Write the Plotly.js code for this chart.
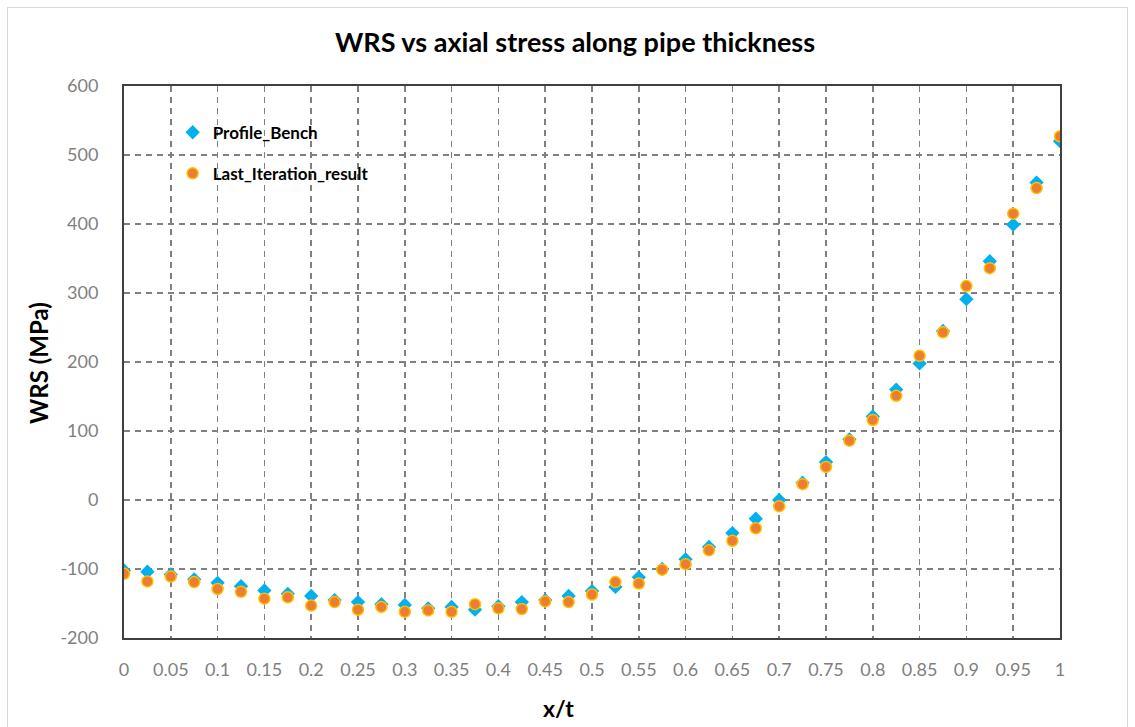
<!DOCTYPE html>
<html>
<head>
<meta charset="utf-8">
<script src="https://cdn.plot.ly/plotly-3.0.1.min.js"></script>
<style>
  html, body { margin: 0; padding: 0; background: #ffffff; }
  #frame { position: absolute; left: 7px; top: 7px; width: 1121px; height: 740px; border: 1px solid #d9d9d9; box-sizing: border-box; }
  #chart { position: absolute; left: 0; top: 0; width: 1135px; height: 727px; }
</style>
</head>
<body>
<div id="frame"></div>
<div id="chart"></div>
<script>
const xPos = [0, 0.025, 0.05, 0.075, 0.1, 0.125, 0.15, 0.175, 0.2, 0.225, 0.25, 0.275, 0.3, 0.325, 0.35, 0.375, 0.4, 0.425, 0.45, 0.475, 0.5, 0.525, 0.55, 0.575, 0.6, 0.625, 0.65, 0.675, 0.7, 0.725, 0.75, 0.775, 0.8, 0.825, 0.85, 0.875, 0.9, 0.925, 0.95, 0.975, 1.0];
const profileBench = [-102, -104, -108, -115, -120, -125, -131, -136, -139, -145, -148, -151, -152, -157, -155, -159, -154, -148, -145, -139, -132, -126, -112, -100, -86, -68, -48, -27, 0, 25, 55, 88, 121, 160, 198, 245, 291, 346, 399, 460, 520];
const lastIteration = [-107, -118, -111, -119, -129, -133, -143, -141, -153, -148, -159, -155, -162, -160, -162, -151, -157, -158, -147, -148, -137, -119, -121, -101, -93, -73, -59, -41, -9, 23, 48, 86, 116, 151, 209, 243, 310, 336, 415, 452, 527];
const seriesNames = ['Profile_Bench', 'Last_Iteration_result'];
const xTickVals = [0, 0.05, 0.1, 0.15, 0.2, 0.25, 0.3, 0.35, 0.4, 0.45, 0.5, 0.55, 0.6, 0.65, 0.7, 0.75, 0.8, 0.85, 0.9, 0.95, 1];
const xTickText = ['0', '0.05', '0.1', '0.15', '0.2', '0.25', '0.3', '0.35', '0.4', '0.45', '0.5', '0.55', '0.6', '0.65', '0.7', '0.75', '0.8', '0.85', '0.9', '0.95', '1'];
const yTickVals = [-200, -100, 0, 100, 200, 300, 400, 500, 600];
const yTickText = ['-200', '-100', '0', '100', '200', '300', '400', '500', '600'];

const FONT = 'Lato, "Open Sans", sans-serif';

const traces = [
  {
    x: xPos, y: profileBench, name: seriesNames[0], type: 'scatter', mode: 'markers',
    legendgroup: 'a',
    marker: { symbol: 'diamond', size: 11, color: '#00B0F0', line: { width: 0 } }
  },
  {
    x: xPos, y: lastIteration, name: seriesNames[1], type: 'scatter', mode: 'markers',
    legendgroup: 'b',
    marker: { symbol: 'circle', size: 11, color: '#ED7D31', line: { width: 1.5, color: '#FFC000' } }
  }
];

const layout = {
  width: 1135, height: 727,
  margin: { l: 124, r: 75, t: 86, b: 89 },
  paper_bgcolor: 'rgba(0,0,0,0)',
  plot_bgcolor: 'rgba(0,0,0,0)',
  font: { family: FONT, color: '#000000' },
  title: {
    text: '<b>WRS vs axial stress along pipe thickness</b>',
    font: { family: FONT, size: 27, color: '#000000' },
    xref: 'container', x: 575 / 1135, xanchor: 'center',
    yref: 'container', y: 1 - 43 / 727, yanchor: 'middle'
  },
  xaxis: {
    range: [0, 1],
    tickvals: xTickVals, ticktext: xTickText,
    showgrid: true, gridcolor: '#808080', gridwidth: 1.5, griddash: '6px,5px',
    zeroline: false,
    showline: true, linecolor: '#404040', linewidth: 2, mirror: true,
    ticks: '', ticklabelstandoff: 14,
    tickfont: { family: FONT, size: 18, color: '#7f7f7f' },
    fixedrange: true
  },
  yaxis: {
    range: [-200, 600],
    tickvals: yTickVals, ticktext: yTickText,
    showgrid: true, gridcolor: '#808080', gridwidth: 1.5, griddash: '6px,5px',
    zeroline: false,
    showline: true, linecolor: '#404040', linewidth: 2, mirror: true,
    ticks: '', ticklabelstandoff: 20,
    tickfont: { family: FONT, size: 18, color: '#7f7f7f' },
    fixedrange: true
  },
  showlegend: true,
  legend: {
    x: 0.052, xanchor: 'left', y: 0.948, yanchor: 'top',
    bgcolor: 'rgba(0,0,0,0)', borderwidth: 0,
    traceorder: 'grouped', tracegroupgap: 16,
    font: { family: FONT, size: 17, color: '#000000', weight: 'bold' }
  },
  shapes: [
    { type: 'rect', xref: 'paper', yref: 'paper', layer: 'between',
      x0: (145 - 124) / 936, x1: (410 - 124) / 936,
      y0: (638 - 193) / 552, y1: (638 - 117) / 552,
      fillcolor: '#ffffff', line: { width: 0 } }
  ],
  annotations: [
    { text: '<b>x/t</b>', xref: 'paper', yref: 'paper', x: (558 - 124) / 936, y: -(708 - 638) / 552,
      xanchor: 'center', yanchor: 'middle', showarrow: false,
      font: { family: FONT, size: 23, color: '#000000' } },
    { text: '<b>WRS (MPa)</b>', xref: 'paper', yref: 'paper', x: -(124 - 38) / 936, y: (638 - 363) / 552,
      xanchor: 'center', yanchor: 'middle', showarrow: false, textangle: -90,
      font: { family: FONT, size: 24, color: '#000000' } }
  ]
};

Plotly.newPlot('chart', traces, layout, { displayModeBar: false, staticPlot: true });
</script>
</body>
</html>
